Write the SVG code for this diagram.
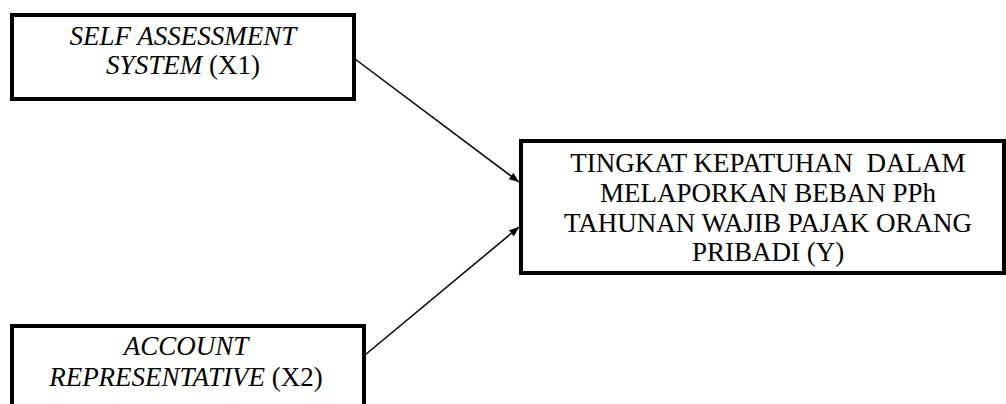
<svg xmlns="http://www.w3.org/2000/svg" width="1006" height="404" viewBox="0 0 1006 404">
<style>
.box{fill:#fff;stroke:#000;stroke-width:4}
.t{font-family:'Liberation Serif','Times New Roman','DejaVu Serif',serif;font-size:27px;fill:#000;text-anchor:middle}
.i{font-style:italic}
.c{stroke:#000;stroke-width:1.5;fill:none}
</style>
<defs>
<marker id="ah" markerWidth="10" markerHeight="8" refX="10" refY="4" orient="auto" markerUnits="userSpaceOnUse">
<path d="M0,0 L10,4 L0,8 Z" fill="#000"/>
</marker>
</defs>
<rect width="1006" height="404" fill="#fff"/>
<g id="connectors">
<line class="c" x1="355" y1="59" x2="519" y2="182" marker-end="url(#ah)"/>
<line class="c" x1="365" y1="355" x2="519" y2="227" marker-end="url(#ah)"/>
</g>
<g id="x1">
<rect class="box" x="12" y="15" width="342" height="84"/>
<text class="t" x="183" y="45"><tspan class="i">SELF ASSESSMENT</tspan></text>
<text class="t" x="183" y="74"><tspan class="i">SYSTEM</tspan> (X1)</text>
</g>
<g id="x2">
<rect class="box" x="12" y="326" width="352" height="100"/>
<text class="t" x="186" y="355"><tspan class="i">ACCOUNT</tspan></text>
<text class="t" x="186" y="386"><tspan class="i">REPRESENTATIVE</tspan> (X2)</text>
</g>
<g id="y">
<rect class="box" x="521" y="141" width="483" height="132"/>
<text class="t" x="768" y="172" xml:space="preserve">TINGKAT KEPATUHAN  DALAM</text>
<text class="t" x="768" y="202">MELAPORKAN BEBAN PPh</text>
<text class="t" x="768" y="232">TAHUNAN WAJIB PAJAK ORANG</text>
<text class="t" x="768" y="261">PRIBADI (Y)</text>
</g>
</svg>
